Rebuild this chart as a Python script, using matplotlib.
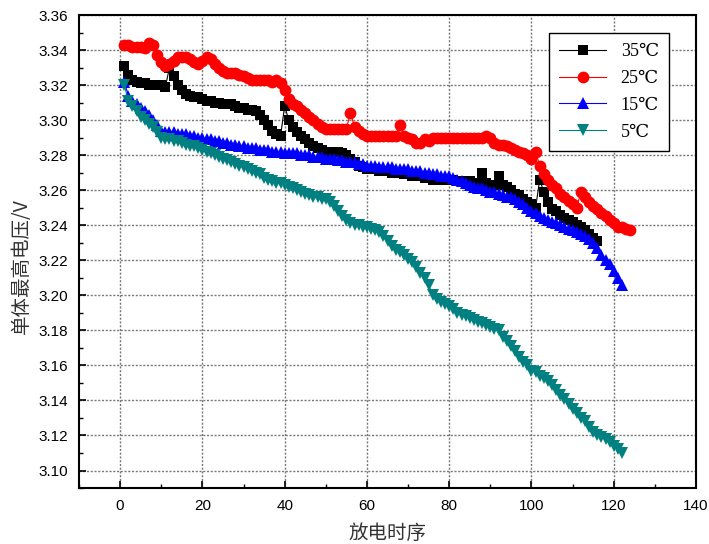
import matplotlib
matplotlib.use("Agg")
import matplotlib.pyplot as plt
import numpy as np
from matplotlib.ticker import MultipleLocator

# discharge sequence values, one point per step starting at 1
v35 = [3.331, 3.326, 3.323, 3.322, 3.321, 3.321, 3.320, 3.320, 3.320, 3.320,
       3.319, 3.330, 3.325, 3.320, 3.317, 3.315, 3.314, 3.313, 3.313, 3.312,
       3.311, 3.311, 3.310, 3.310, 3.309, 3.309, 3.309, 3.308, 3.307, 3.307,
       3.306, 3.306, 3.305, 3.303, 3.300, 3.297, 3.294, 3.292, 3.291, 3.308,
       3.300, 3.296, 3.293, 3.291, 3.289, 3.287, 3.285, 3.284, 3.283, 3.282,
       3.282, 3.282, 3.282, 3.281, 3.280, 3.278, 3.276, 3.274, 3.273, 3.272,
       3.272, 3.272, 3.271, 3.271, 3.271, 3.270, 3.270, 3.270, 3.269, 3.269,
       3.268, 3.268, 3.268, 3.267, 3.267, 3.266, 3.266, 3.266, 3.266, 3.266,
       3.266, 3.265, 3.265, 3.265, 3.265, 3.264, 3.264, 3.270, 3.264, 3.263,
       3.263, 3.268, 3.263, 3.262, 3.260, 3.258, 3.257, 3.255, 3.253, 3.252,
       3.250, 3.266, 3.259, 3.253, 3.249, 3.248, 3.246, 3.244, 3.243, 3.242,
       3.240, 3.239, 3.237, 3.235, 3.233, 3.231]

v25 = [3.343, 3.343, 3.342, 3.342, 3.342, 3.341, 3.344, 3.343, 3.337, 3.333,
       3.331, 3.332, 3.334, 3.336, 3.336, 3.336, 3.335, 3.333, 3.332, 3.334,
       3.336, 3.335, 3.332, 3.330, 3.328, 3.327, 3.327, 3.327, 3.326, 3.325,
       3.324, 3.323, 3.323, 3.323, 3.323, 3.323, 3.322, 3.323, 3.321, 3.317,
       3.312, 3.309, 3.308, 3.306, 3.304, 3.302, 3.300, 3.298, 3.296, 3.295,
       3.295, 3.295, 3.295, 3.295, 3.295, 3.304, 3.296, 3.294, 3.292, 3.291,
       3.291, 3.291, 3.291, 3.291, 3.291, 3.291, 3.291, 3.297, 3.291, 3.290,
       3.289, 3.287, 3.287, 3.289, 3.288, 3.290, 3.290, 3.290, 3.290, 3.290,
       3.290, 3.290, 3.290, 3.290, 3.290, 3.290, 3.290, 3.290, 3.291, 3.290,
       3.287, 3.286, 3.286, 3.285, 3.284, 3.283, 3.282, 3.281, 3.280, 3.278,
       3.282, 3.274, 3.269, 3.266, 3.263, 3.261, 3.258, 3.256, 3.254, 3.252,
       3.250, 3.259, 3.256, 3.253, 3.251, 3.249, 3.247, 3.245, 3.243, 3.241,
       3.239, 3.239, 3.238, 3.237]

v15 = [3.322, 3.314, 3.311, 3.309, 3.307, 3.305, 3.303, 3.300, 3.297, 3.294,
       3.293, 3.293, 3.293, 3.292, 3.292, 3.292, 3.291, 3.291, 3.290, 3.290,
       3.289, 3.289, 3.288, 3.288, 3.287, 3.287, 3.286, 3.286, 3.285, 3.285,
       3.284, 3.284, 3.284, 3.283, 3.283, 3.283, 3.282, 3.282, 3.282, 3.281,
       3.281, 3.281, 3.281, 3.280, 3.280, 3.280, 3.279, 3.279, 3.279, 3.278,
       3.278, 3.278, 3.277, 3.277, 3.276, 3.276, 3.276, 3.275, 3.275, 3.274,
       3.274, 3.274, 3.273, 3.273, 3.273, 3.273, 3.272, 3.272, 3.272, 3.272,
       3.271, 3.271, 3.271, 3.270, 3.270, 3.269, 3.269, 3.268, 3.268, 3.268,
       3.267, 3.266, 3.265, 3.264, 3.263, 3.262, 3.261, 3.261, 3.260, 3.259,
       3.259, 3.258, 3.257, 3.256, 3.256, 3.255, 3.253, 3.252, 3.250, 3.248,
       3.247, 3.245, 3.244, 3.243, 3.242, 3.241, 3.240, 3.239, 3.238, 3.237,
       3.236, 3.235, 3.234, 3.232, 3.230, 3.227, 3.223, 3.220, 3.218, 3.214,
       3.210, 3.206]

v5 = [3.320, 3.311, 3.308, 3.305, 3.302, 3.300, 3.298, 3.296, 3.293, 3.290,
      3.289, 3.289, 3.288, 3.288, 3.287, 3.286, 3.285, 3.285, 3.284, 3.283,
      3.282, 3.281, 3.280, 3.279, 3.278, 3.277, 3.276, 3.275, 3.274, 3.273,
      3.272, 3.271, 3.270, 3.269, 3.267, 3.266, 3.265, 3.264, 3.264, 3.263,
      3.262, 3.261, 3.260, 3.259, 3.258, 3.257, 3.256, 3.256, 3.255, 3.255,
      3.253, 3.251, 3.248, 3.245, 3.243, 3.241, 3.240, 3.240, 3.239, 3.239,
      3.238, 3.237, 3.236, 3.234, 3.231, 3.228, 3.226, 3.225, 3.223, 3.221,
      3.219, 3.216, 3.213, 3.210, 3.206, 3.200, 3.198, 3.196, 3.195, 3.194,
      3.192, 3.190, 3.189, 3.188, 3.187, 3.186, 3.185, 3.184, 3.183, 3.182,
      3.181, 3.180, 3.176, 3.174, 3.171, 3.168, 3.165, 3.162, 3.160, 3.157,
      3.156, 3.154, 3.153, 3.151, 3.149, 3.146, 3.143, 3.141, 3.138, 3.135,
      3.133, 3.130, 3.128, 3.125, 3.122, 3.120, 3.119, 3.118, 3.116, 3.114,
      3.112, 3.110]

labels = ["35℃", "25℃", "15℃", "5℃"]
series = [v35, v25, v15, v5]
colors = ["black", "#ff0000", "#0000ff", "#008080"]
markers = ["s", "o", "^", "v"]
msizes = [7.5, 8.5, 9, 9]

fig = plt.figure(figsize=(7.09, 5.44), dpi=100)
ax = fig.add_axes([0.1114, 0.1029, 0.8703, 0.8695])

for vals, lab, c, m, ms in zip(series, labels, colors, markers, msizes):
    x = np.arange(1, len(vals) + 1)
    ax.plot(x, vals, color=c, marker=m, markersize=ms, linewidth=0.8,
            markeredgewidth=0, label=lab)

ax.set_xlim(-10, 140)
ax.set_ylim(3.09, 3.36)
ax.xaxis.set_major_locator(MultipleLocator(20))
ax.xaxis.set_minor_locator(MultipleLocator(10))
ax.yaxis.set_major_locator(MultipleLocator(0.02))
ax.yaxis.set_minor_locator(MultipleLocator(0.01))
ax.yaxis.set_major_formatter(matplotlib.ticker.FormatStrFormatter("%.2f"))
ax.tick_params(which="both", direction="in", top=False, right=False)
ax.tick_params(which="major", length=5, width=1.2, labelsize=11, pad=8)
ax.tick_params(which="minor", length=3, width=1.0)
for lbl in ax.get_xticklabels() + ax.get_yticklabels():
    lbl.set_family("Liberation Sans")
for sp in ax.spines.values():
    sp.set_linewidth(1.5)

ax.grid(True, which="major", color="#777777", linestyle=(0, (1.5, 1.2)), linewidth=1.0)
ax.set_axisbelow(True)

ax.set_xlabel("放电时序", family=["Noto Sans CJK SC"], fontsize=14, color="#333333")
ax.set_ylabel("单体最高电压/V", family=["Noto Sans CJK SC"], fontsize=14, color="#333333")
ax.xaxis.set_label_coords(0.5, -0.073)
ax.yaxis.set_label_coords(-0.076, 0.47)

leg = ax.legend(loc="upper right", bbox_to_anchor=(0.956, 0.962), borderaxespad=0,
                fancybox=False, edgecolor="black", framealpha=1, handlelength=2.6,
                prop={"family": ["Liberation Serif", "DejaVu Serif"], "size": 13},
                labelspacing=0.55, borderpad=0.55, handletextpad=0.8)
leg.get_frame().set_linewidth(1.0)

fig.savefig("out.png", dpi=100)
